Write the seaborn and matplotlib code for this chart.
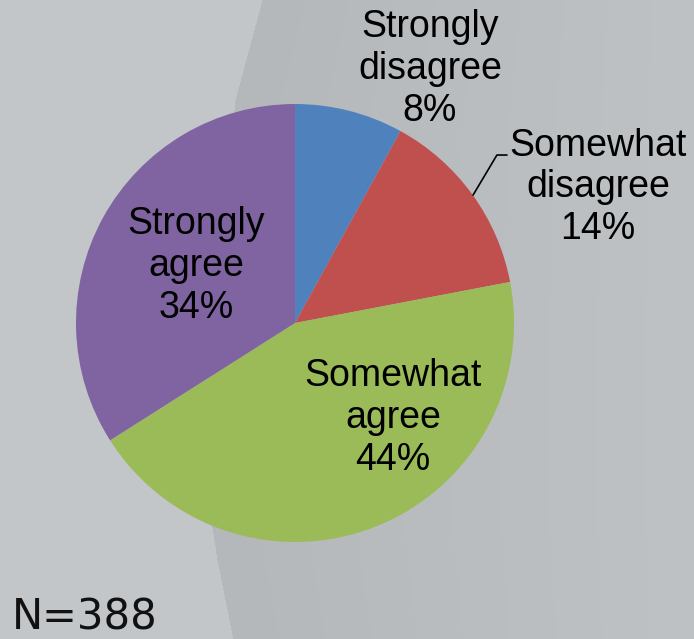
import numpy as np
import matplotlib
matplotlib.use("Agg")
import matplotlib.pyplot as plt
import seaborn as sns

# Survey responses
categories = ["Strongly\ndisagree", "Somewhat\ndisagree", "Somewhat\nagree", "Strongly\nagree"]
shares = [8, 14, 44, 34]
colors = ["#4f81bd", "#c0504d", "#9bbb59", "#8064a2"]
n_total = 388

sns.set_theme(style="white")
plt.rcParams["font.family"] = ["Liberation Sans", "DejaVu Sans"]

W, H = 694, 639
fig = plt.figure(figsize=(W / 100, H / 100), dpi=100)

# Background: light grey with a darker curved band on the right
bg = fig.add_axes([0, 0, 1, 1])
yy, xx = np.mgrid[0:H, 0:W]
curve_y = [0, 100, 300, 480, 527, 560, 639]
curve_x = [262, 235, 213, 208, 212, 217, 233]
edge = np.interp(yy[:, 0], curve_y, curve_x)[:, None]
light = np.array([0xc2, 0xc6, 0xc9]) / 255
dark = np.array([0xb5, 0xb8, 0xbb]) / 255
right = np.array([0xbe, 0xc2, 0xc5]) / 255
t = np.clip((xx - edge) / (W - edge), 0, 1)[..., None]
img = np.where((xx >= edge)[..., None], dark * (1 - t) + right * t, light)
bg.imshow(img, aspect="auto", extent=[0, W, H, 0])
bg.axis("off")

# Pie axes: centre (295, 323) px, radius 219 px
r = 219
cx, cy = 295, 323
ax = fig.add_axes([(cx - r) / W, (H - cy - r) / H, 2 * r / W, 2 * r / H])
ax.pie(shares, colors=colors, startangle=90, counterclock=False,
       radius=1, wedgeprops=dict(linewidth=0))
ax.set_xlim(-1, 1)
ax.set_ylim(-1, 1)
ax.set_aspect("equal")
ax.axis("off")

label_pos = [(0.616, 1.16), (1.384, 0.62), (0.447, -0.434), (-0.452, 0.26)]
for cat, v, (x, y) in zip(categories, shares, label_pos):
    ax.text(x, y, f"{cat}\n{v}%", ha="center", va="center", fontsize=27,
            linespacing=1.2, color="black", clip_on=False)

# leader line for the "Somewhat disagree" label
ax.plot([0.813, 0.922, 0.968], [0.584, 0.767, 0.767], color="black",
        lw=1.2, clip_on=False)

fig.text(12 / W, 1 - 629 / H, f"N={n_total}", fontsize=30,
         family=["DejaVu Sans"], ha="left", va="baseline", color="#111111")

fig.savefig("out.png", dpi=100)
